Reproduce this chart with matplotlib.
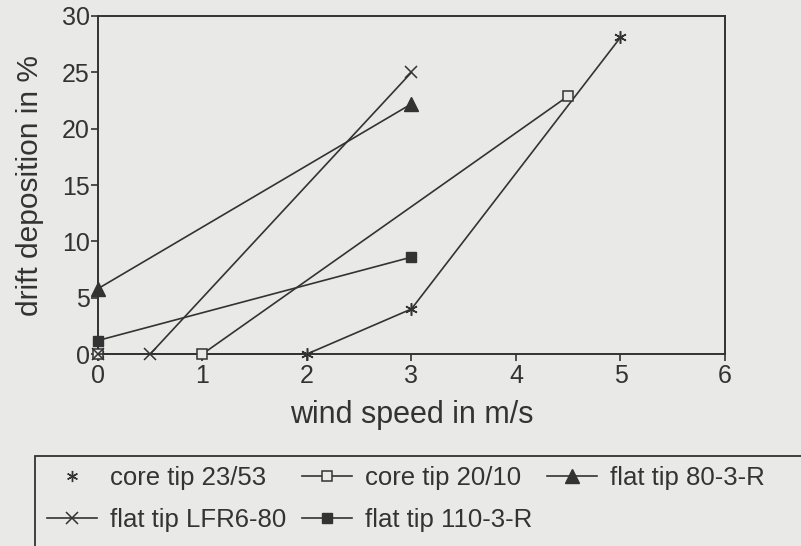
import matplotlib
matplotlib.use('Agg')
import matplotlib.pyplot as plt
from matplotlib.lines import Line2D
from matplotlib.patches import Rectangle

plt.rcParams['font.family'] = ['Liberation Sans', 'DejaVu Sans']

# data (wind speed m/s -> drift deposition %)
core_2353_x = [0, 2, 3, 5]
core_2353_y = [0, 0, 4.0, 28.1]
core_2010_x = [0, 1, 4.5]
core_2010_y = [0, 0, 22.9]
flat_803r_x = [0, 3]
flat_803r_y = [5.8, 22.2]
flat_lfr_x = [0, 0.5, 3]
flat_lfr_y = [0, 0, 25.0]
flat_1103r_x = [0, 3]
flat_1103r_y = [1.2, 8.6]

x_ticks = [0, 1, 2, 3, 4, 5, 6]
y_ticks = [0, 5, 10, 15, 20, 25, 30]

bg = '#e9e9e7'
ink = '#333333'

fig = plt.figure(figsize=(8.01, 5.46), dpi=100, facecolor=bg)
ax = fig.add_axes([0.1223, 0.3516, 0.7828, 0.6191], facecolor=bg)

lw = 1.2
l1, = ax.plot(core_2353_x, core_2353_y, color=ink, lw=lw, marker=(6, 2, 0), ms=9,
              mew=1.1, label='core tip 23/53', clip_on=False, zorder=3)
l2, = ax.plot(core_2010_x, core_2010_y, color=ink, lw=lw, marker='s', ms=7,
              mfc=bg, mew=1.1, label='core tip 20/10', clip_on=False, zorder=3)
l3, = ax.plot(flat_803r_x, flat_803r_y, color=ink, lw=lw, marker='^', ms=10,
              label='flat tip 80-3-R', clip_on=False, zorder=3)
l4, = ax.plot(flat_lfr_x, flat_lfr_y, color=ink, lw=lw, marker='x', ms=8.5,
              mew=1.1, label='flat tip LFR6-80', clip_on=False, zorder=3)
l5, = ax.plot(flat_1103r_x, flat_1103r_y, color=ink, lw=lw, marker='s', ms=7,
              label='flat tip 110-3-R', clip_on=False, zorder=3)

ax.set_xlim(0, 6)
ax.set_ylim(0, 30)
ax.set_xticks(x_ticks)
ax.set_yticks(y_ticks)
ax.tick_params(axis='x', direction='out', length=5, width=1.2, colors=ink,
               labelsize=18, pad=2)
ax.tick_params(axis='y', direction='out', length=5, width=1.2, colors=ink,
               labelsize=18, pad=1)
for s in ax.spines.values():
    s.set_linewidth(1.4)
    s.set_color(ink)

ax.set_xlabel('wind speed in m/s', fontsize=22, color=ink, labelpad=9)
ax.set_ylabel('drift deposition in %', fontsize=21.5, color=ink, labelpad=13)

# legend: 23/53 shown as marker only
h_2353 = Line2D([], [], ls='none', marker=(6, 2, 0), ms=8, mew=1.0, color=ink)
handles = [h_2353, l4, l2, l5, l3]
labels = ['core tip 23/53', 'flat tip LFR6-80', 'core tip 20/10',
          'flat tip 110-3-R', 'flat tip 80-3-R']
leg = fig.legend(handles, labels, ncol=3, frameon=False, fontsize=18.5,
                 loc='upper left', bbox_to_anchor=(47 / 801, 1 - 466 / 546),
                 handlelength=1.95, handletextpad=0.5, columnspacing=0.6,
                 labelspacing=0.7, borderpad=0, borderaxespad=0,
                 labelcolor=ink)

fig.add_artist(Rectangle((35 / 801, -0.1), 1.0, 0.1 + 90 / 546, fill=False,
                         lw=1.3, edgecolor=ink, transform=fig.transFigure))

fig.savefig('out.png', dpi=100, facecolor=bg)
